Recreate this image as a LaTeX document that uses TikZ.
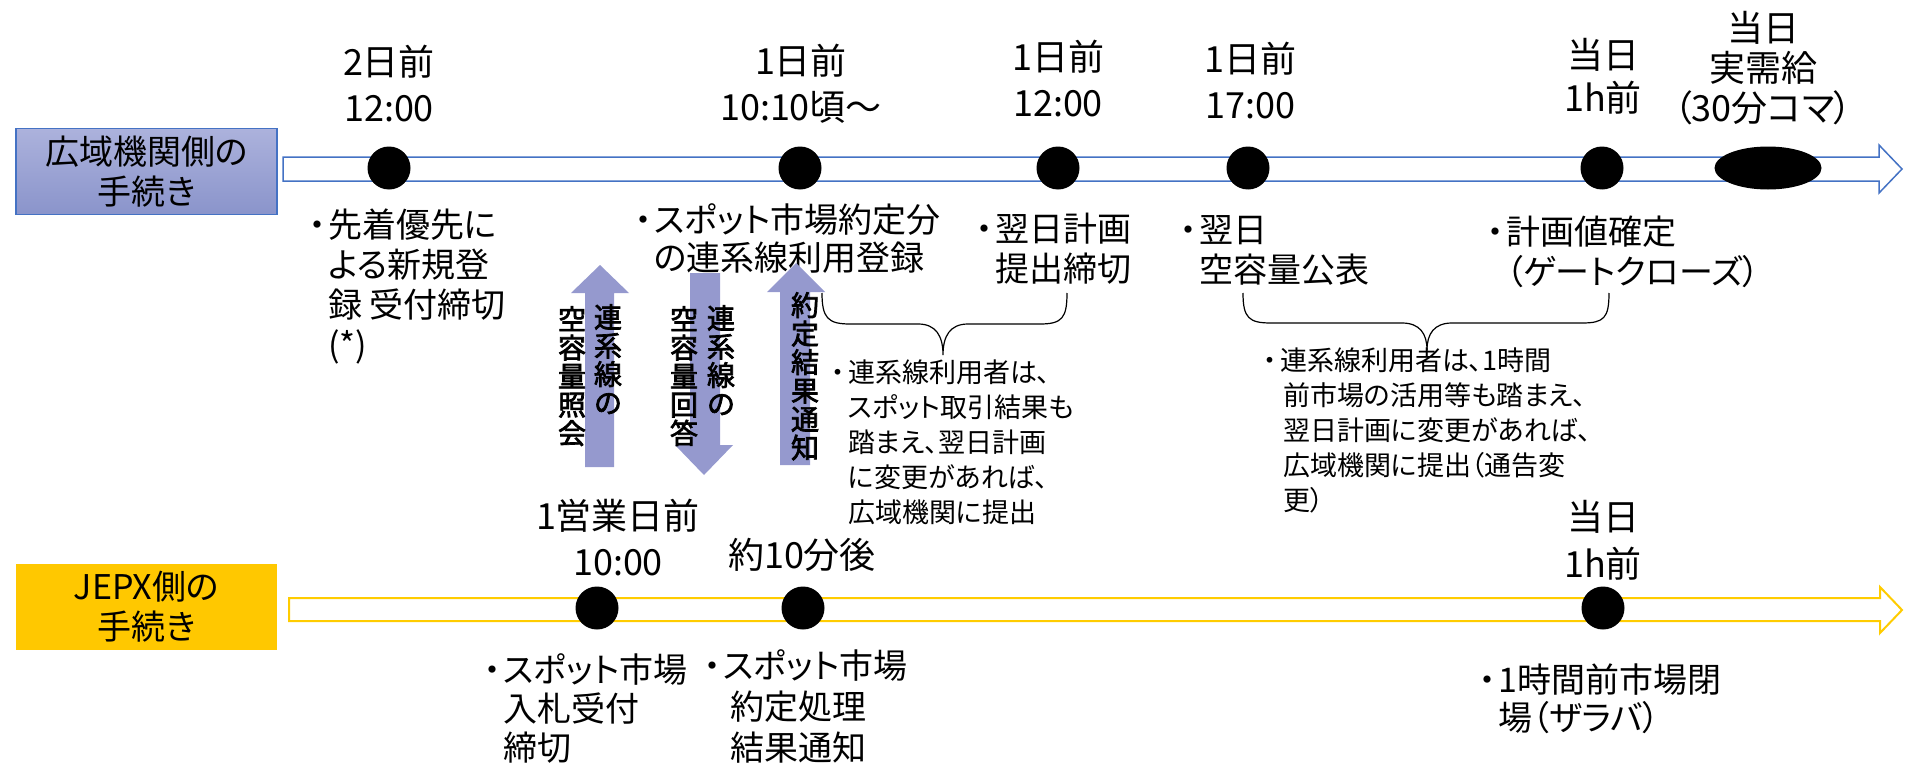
\documentclass[tikz,border=0pt]{standalone}
\usepackage{fontspec}
\setmainfont{Noto Sans CJK JP}[RawFeature=+palt, AutoFakeBold=2.5]
\usetikzlibrary{shapes.geometric}
\definecolor{bluel}{RGB}{68,114,196}
\definecolor{boxtop}{RGB}{172,178,220}
\definecolor{boxbot}{RGB}{138,148,203}
\definecolor{gold}{RGB}{255,200,0}
\definecolor{goldl}{RGB}{255,204,0}
\definecolor{varrow}{RGB}{149,153,206}
\newcommand\bul{\makebox[22pt][c]{・}}
\newcommand\ind{\hspace*{22pt}}
\newcommand\bus{\makebox[20pt][c]{・}}
\newcommand\ins{\hspace*{20pt}}
\begin{document}
\begin{tikzpicture}[x=1pt,y=-1pt,
  lab/.style={font={\fontsize{36}{46}\selectfont}, align=center, inner sep=0pt},
  body/.style={font={\fontsize{34}{40}\selectfont}, align=left, inner sep=0pt, anchor=west},
  note/.style={font={\fontsize{27}{35}\selectfont}, align=left, inner sep=0pt, anchor=west},
  vt/.style={font={\fontsize{28}{28.5}\selectfont\bfseries\lineskiplimit=-20pt}, align=center, inner sep=0pt, anchor=north},
  dot/.style={circle, fill=black, minimum size=43pt, inner sep=0pt},
  vbar/.style={fill=varrow, draw=none},
  brace/.style={draw=black, line width=1.2pt},
  lane/.style={minimum width=261pt, minimum height=86pt, inner sep=0pt, align=center, font={\fontsize{34}{40}\selectfont}}
]
\useasboundingbox (0,0) rectangle (1905,768);

% lane boxes
\node[lane, draw=bluel, line width=1.2pt, top color=boxtop, bottom color=boxbot] (kb) at (146.5,171.5) {広域機関側の\\手続き};
\node[lane, fill=gold] (jb) at (146.5,607) {JEPX側の\\手続き};

% timeline arrows
\draw[bluel, line width=1.5pt, fill=white] (283,157) -- (1879,157) -- (1879,145) -- (1902,169) -- (1879,193) -- (1879,181) -- (283,181) -- cycle;
\draw[goldl, line width=2pt, fill=white] (289,598) -- (1880,598) -- (1880,587) -- (1902,610) -- (1880,633) -- (1880,621) -- (289,621) -- cycle;

% dots top
\node[dot] (d1) at (389,168) {};
\node[dot] (d2) at (800,168) {};
\node[dot] (d3) at (1058,168) {};
\node[dot] (d4) at (1248,168) {};
\node[dot] (d5) at (1602,168) {};
\node[ellipse, fill=black, minimum width=107pt, minimum height=43pt, inner sep=0pt] (d6) at (1768,168) {};
% dots bottom
\node[dot] (e1) at (597,608) {};
\node[dot] (e2) at (803,608) {};
\node[dot] (e3) at (1603,608) {};

% top labels
\node[lab] (t1) at (389,84) {2日前\\12:00};
\node[lab] (t2) at (801,84) {1日前\\10:10頃～};
\node[lab] (t3) at (1058,79) {1日前\\12:00};
\node[lab] (t4) at (1250,81) {1日前\\17:00};
\node[lab, font={\fontsize{36}{43}\selectfont}] (t5) at (1603,76) {当日\\1h前};
\node[lab, font={\fontsize{36}{40}\selectfont}] (t6) at (1763,68) {当日\\実需給\\（30分コマ）};
% bottom labels
\node[lab] (u1) at (618,538) {1営業日前\\10:00};
\node[lab] (u2) at (802,555) {約10分後};
\node[lab, font={\fontsize{36}{47}\selectfont}] (u3) at (1603,540) {当日\\1h前};

% body texts top
\node[body] (b1) at (306,286.5) {\bul 先着優先に\\\ind よる新規登\\\ind 録 受付締切\\\ind (*)};
\node[body, font={\fontsize{34}{38}\selectfont}] (b2) at (632,238.5) {\bul スポット市場約定分\\\ind の連系線利用登録};
\node[body] (b3) at (973,249) {\bul 翌日計画\\\ind 提出締切};
\node[body] (b4) at (1177,250) {\bul 翌日\\\ind 空容量公表};
\node[body] (b5) at (1484,252) {\bul 計画値確定\\\ind （ゲートクローズ）};
% body texts bottom
\node[body, font={\fontsize{34}{39}\selectfont}] (b6) at (481,708) {\bul スポット市場\\\ind 入札受付\\\ind 締切};
\node[body, font={\fontsize{34}{41}\selectfont}] (b7) at (701,706) {\bul スポット市場\\\hspace*{29pt}約定処理\\\hspace*{29pt}結果通知};
\node[body, font={\fontsize{34}{38}\selectfont}] (b8) at (1476,699) {\bul 1時間前市場閉\\\ind 場（ザラバ）};

% braces
\draw[brace] (822,293) .. controls (822,318) and (828,324) .. (850,324) -- (918,324)
  .. controls (936,324) and (943,336) .. (943,355)
  .. controls (943,336) and (950,324) .. (968,324) -- (1040,324)
  .. controls (1062,324) and (1067,318) .. (1067,293);
\draw[brace] (1243,293) .. controls (1243,318) and (1249,323) .. (1271,323) -- (1402,323)
  .. controls (1420,323) and (1427,334) .. (1427,350)
  .. controls (1427,334) and (1434,323) .. (1452,323) -- (1582,323)
  .. controls (1604,323) and (1609,318) .. (1609,293);

% notes
\node[note] (n1) at (828,442) {\bus 連系線利用者は、\\\ins スポット取引結果も\\\ins 踏まえ、翌日計画\\\ins に変更があれば、\\\ins 広域機関に提出};
\node[note] (n2) at (1260,430) {\bus 連系線利用者は、1時間\\\hspace*{23pt}前市場の活用等も踏まえ、\\\hspace*{23pt}翌日計画に変更があれば、\\\hspace*{23pt}広域機関に提出（通告変\\\hspace*{23pt}更）};

% vertical arrows
\path[vbar] (585,467) -- (585,293) -- (571,293) -- (600,265) -- (629,293) -- (614,293) -- (614,467) -- cycle;
\path[vbar] (690,273) -- (720,273) -- (720,445) -- (733,445) -- (704,475) -- (675,445) -- (690,445) -- cycle;
\path[vbar] (780,465) -- (780,292) -- (767,292) -- (796,263) -- (825,292) -- (810,292) -- (810,465) -- cycle;

% vertical texts
\node[vt] (v1a) at (608,304) {連\\系\\線\\の};
\node[vt] (v1b) at (572,306) {空\\容\\量\\照\\会};
\node[vt] (v2a) at (721,305) {連\\系\\線\\の};
\node[vt] (v2b) at (684,306) {空\\容\\量\\回\\答};
\node[vt] (v3) at (805,292) {約\\定\\結\\果\\通\\知};
\end{tikzpicture}
\end{document}
